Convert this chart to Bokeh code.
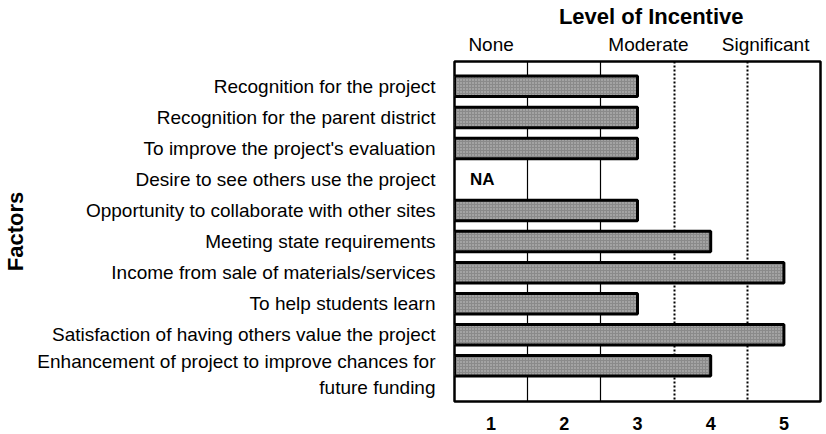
from bokeh.plotting import figure
from bokeh.models import Range1d, FixedTicker, Grid, Label, LinearAxis
from bokeh.embed import file_html
from bokeh.resources import INLINE

factors = [
    "Recognition for the project",
    "Recognition for the parent district",
    "To improve the project's evaluation",
    "Desire to see others use the project",
    "Opportunity to collaborate with other sites",
    "Meeting state requirements",
    "Income from sale of materials/services",
    "To help students learn",
    "Satisfaction of having others value the project",
    "Enhancement of project to improve chances for\nfuture funding",
]
levels = [3, 3, 3, None, 3, 4, 5, 3, 5, 4]
scale_ticks = [1, 2, 3, 4, 5]
scale_words = ["None", "Moderate", "Significant"]
boundaries_solid = [1.5, 2.5]
boundaries_dotted = [3.5, 4.5]

FONT = "Liberation Sans"

p = figure(width=822, height=432, output_backend="svg", toolbar_location=None,
           x_range=Range1d(0.5, 5.5), y_range=Range1d(10.15, -0.8),
           min_border_left=453, min_border_top=20, min_border_right=2,
           min_border_bottom=29)
p.background_fill_color = "white"
p.border_fill_color = "white"
p.outline_line_color = "black"
p.outline_line_width = 2.5

p.xgrid.visible = False
p.ygrid.visible = False
g1 = Grid(dimension=0, ticker=FixedTicker(ticks=boundaries_solid),
          grid_line_color="black", grid_line_width=1.2)
g2 = Grid(dimension=0, ticker=FixedTicker(ticks=boundaries_dotted),
          grid_line_color="black", grid_line_width=2, grid_line_dash="2 2")
p.add_layout(g1)
p.add_layout(g2)

ys = [i for i, v in enumerate(levels) if v is not None]
vals = [v for v in levels if v is not None]
p.hbar(y=ys, left=0.5, right=vals, height=0.66,
       fill_color="#8a8a8a", line_color="black", line_width=3,
       hatch_pattern="dot", hatch_color="#d8d8d8", hatch_scale=3, hatch_alpha=0.8)

na_rows = [i for i, v in enumerate(levels) if v is None]
for r in na_rows:
    p.add_layout(Label(x=0.88, y=r, text="NA", text_font=FONT, text_font_style="bold",
                       text_font_size="17px", text_align="center", text_baseline="middle",
                       text_color="black"))

# y axis (two-line last label sits a little lower than its bar)
label_pos = [float(i) for i in range(len(factors))]
label_pos[-1] += 0.28
p.yaxis.ticker = FixedTicker(ticks=label_pos)
p.yaxis.major_label_overrides = {pos: f for pos, f in zip(label_pos, factors)}
p.yaxis.major_label_text_font = FONT
p.yaxis.major_label_text_font_size = "19px"
p.yaxis.major_label_text_color = "black"
p.yaxis.major_tick_line_color = None
p.yaxis.minor_tick_line_color = None
p.yaxis.axis_line_color = None
p.yaxis.major_label_standoff = 13
p.yaxis.axis_label = "Factors"
p.yaxis.axis_label_text_font = FONT
p.yaxis.axis_label_text_font_style = "bold"
p.yaxis.axis_label_text_font_size = "22px"
p.yaxis.axis_label_text_color = "black"
p.yaxis.axis_label_standoff = 6

# x axis
p.xaxis.ticker = FixedTicker(ticks=scale_ticks)
p.xaxis.major_label_text_font = FONT
p.xaxis.major_label_text_font_style = "bold"
p.xaxis.major_label_text_font_size = "18px"
p.xaxis.major_label_text_color = "black"
p.xaxis.major_tick_line_color = None
p.xaxis.minor_tick_line_color = None
p.xaxis.axis_line_color = None
p.xaxis.major_label_standoff = 9

# top word scale
word_pos = [1.0, 3.15, 4.75]
p.extra_x_ranges = {"words": Range1d(0.5, 5.5)}
top = LinearAxis(x_range_name="words", ticker=FixedTicker(ticks=word_pos),
                 major_label_overrides={pos: w for pos, w in zip(word_pos, scale_words)},
                 major_label_text_font=FONT, major_label_text_font_size="19px",
                 major_label_text_color="black", major_tick_line_color=None,
                 minor_tick_line_color=None, axis_line_color=None,
                 major_label_standoff=1)
p.add_layout(top, "above")

p.title.text = "Level of Incentive"
p.title.text_font = FONT
p.title.text_font_style = "bold"
p.title.text_font_size = "22px"
p.title.text_color = "black"
p.title.align = "right"
p.title.offset = 77
p.title.standoff = 3

open("out.html", "w").write(file_html(p, INLINE))
